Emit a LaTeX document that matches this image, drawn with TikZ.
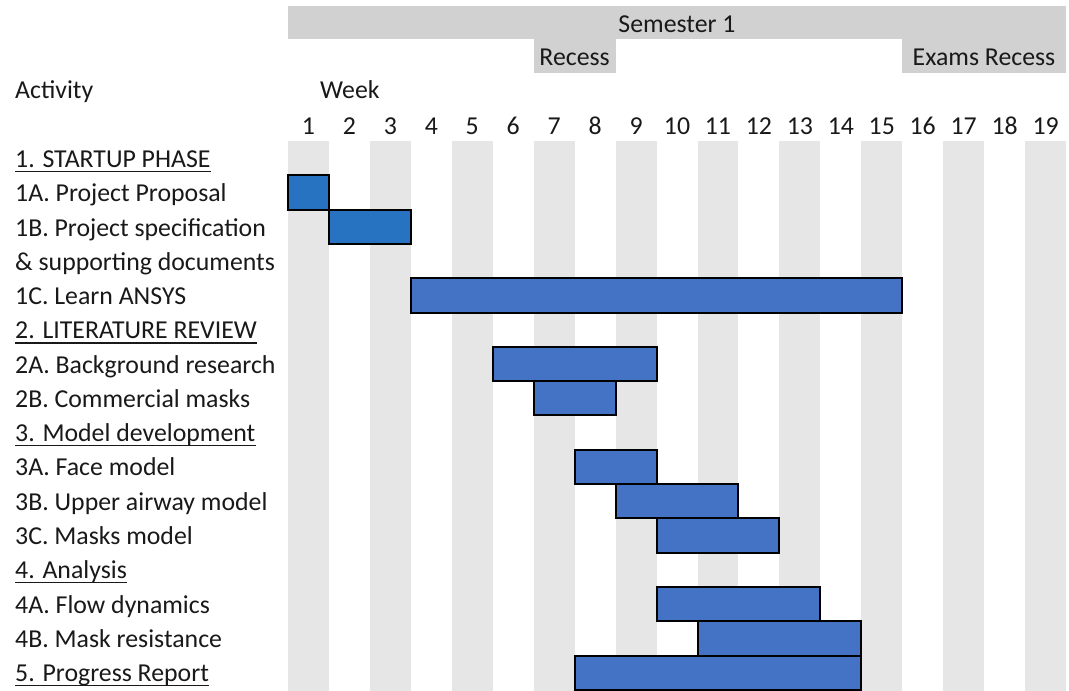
\documentclass[tikz,border=0pt]{standalone}
\usepackage{fontspec}
\setmainfont{Carlito}
\definecolor{stripe}{RGB}{231,230,230}
\definecolor{hdr}{RGB}{210,209,209}
\definecolor{barA}{RGB}{40,114,194}
\definecolor{barB}{RGB}{68,114,196}
\definecolor{ink}{RGB}{25,25,25}
\begin{document}
\begin{tikzpicture}[x=1pt,y=-1pt,
  lbl/.style={inner sep=0pt, anchor=base west, text=ink, font=\fontsize{25.8}{30}\selectfont},
  ctr/.style={inner sep=0pt, anchor=base, text=ink, font=\fontsize{25.8}{30}\selectfont},
  ul/.style={draw=ink, line width=1.4pt},
  bar/.style={draw=black, line width=2pt, fill=barB},
  barfirst/.style={bar, fill=barA}]
\useasboundingbox (0,0) rectangle (1069,691);
\fill[white] (0,0) rectangle (1069,691);
% week stripes
\foreach \k in {1,3,...,19}
  \fill[stripe] ({288+40.95*(\k-1)},141) rectangle ({288+40.95*\k},691);
% header bars
\fill[hdr] (288,6) rectangle (1066,39);
\fill[hdr] (533.7,38.5) rectangle (615.6,73);
\fill[hdr] (902.25,38.5) rectangle (1066,73);
\node[ctr] (sem) at (677,32) {Semester 1};
\node[ctr] (rec) at (574.6,65) {Recess};
\node[ctr] (exr) at (984,65) {Exams Recess};
\node[lbl] (act) at (15,98) {Activity};
\node[lbl] (week) at (320,98) {Week};
\foreach \k in {1,...,19}
  \node[ctr] (w\k) at ({288+40.95*(\k-0.5)},134) {\k};
% labels
\foreach \i/\t in {0/{1. STARTUP PHASE},1/{1A. Project Proposal},2/{1B. Project specification},
  3/{\& supporting documents},4/{1C. Learn ANSYS},5/{2. LITERATURE REVIEW},
  6/{2A. Background research},7/{2B. Commercial masks},8/{3. Model development},
  9/{3A. Face model},10/{3B. Upper airway model},11/{3C. Masks model},
  12/{4. Analysis},13/{4A. Flow dynamics},14/{4B. Mask resistance},15/{5. Progress Report}}
  \node[lbl] (r\i) at (15,{167.5+34.27*\i}) {\t};
\foreach \i in {0,5,8,12,15}
  \draw[ul] ([yshift=-4pt]r\i.base west) -- ([yshift=-4pt]r\i.base east);
% bars
\foreach \i/\s/\e/\st in {1/1/1/barfirst,2/2/3/barfirst,4/4/15/bar,6/6/9/bar,7/7/8/bar,
  9/8/9/bar,10/9/11/bar,11/10/12/bar,13/10/13/bar,14/11/14/bar,15/8/14/bar}
  \draw[\st] ({288+40.95*(\s-1)},{141+34.3*\i}) rectangle ({288+40.95*\e},{141+34.3*(\i+1)});
\end{tikzpicture}
\end{document}
